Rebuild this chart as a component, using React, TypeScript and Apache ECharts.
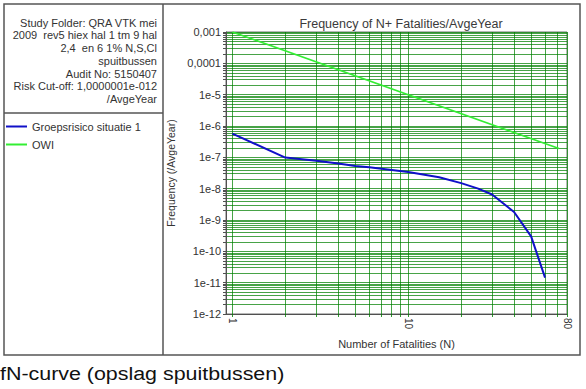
import React, { useEffect, useRef } from 'react';
import * as echarts from 'echarts';

// ---- data ----
const seriesNames = ['Groepsrisico situatie 1', 'OWI'];
const groepsN = [1, 2, 3, 4, 5, 6, 10, 15, 20, 25, 30, 40, 50, 60];
const groepsF = [5.7e-7, 9.8e-8, 7.8e-8, 6.4e-8, 5.3e-8, 4.8e-8, 3.4e-8, 2.3e-8, 1.5e-8, 1.0e-8, 6.5e-9, 1.8e-9, 3.0e-10, 1.45e-11];
const owiN = [1, 72];
const owiF = [1e-3, 1.9e-7];

const xTickValues = [1, 2, 3, 4, 5, 6, 7, 8, 9, 10, 20, 30, 40, 50, 60, 70, 80];
const xLabelValues = [1, 10, 80];
const yDecadeExponents = [-12, -11, -10, -9, -8, -7, -6, -5, -4, -3];
const yMinorMultipliers = [1, 2, 3, 4, 5, 6, 7, 8, 9];

const titleText = 'Frequency of N+ Fatalities/AvgeYear';
const xAxisName = 'Number of Fatalities (N)';
const yAxisName = 'Frequency (/AvgeYear)';
const infoLines = [
  'Study Folder: QRA VTK mei',
  '2009  rev5 hiex hal 1 tm 9 hal',
  '2,4  en 6 1% N,S,Cl',
  'spuitbussen',
  'Audit No: 5150407',
  'Risk Cut-off: 1,0000001e-012',
  '/AvgeYear',
];
const captionText = 'fN-curve (opslag spuitbussen)';

const FONT = '"Liberation Sans", Arial, sans-serif';

function yLabel(v: number): string {
  const e = Math.round(Math.log10(v));
  if (e >= -4) return '0,' + '0'.repeat(-e - 1) + '1';
  return '1e' + e;
}

export default function App() {
  const ref = useRef<HTMLDivElement>(null);
  useEffect(() => {
    if (!ref.current) return;
    const chart = echarts.init(ref.current, null, { renderer: 'svg' });

    const yLabelValues = yDecadeExponents.map((e) => Math.pow(10, e));
    const yTickValues: number[] = [];
    yDecadeExponents.forEach((e) => {
      yMinorMultipliers.forEach((m) => {
        const v = m * Math.pow(10, e);
        if (v <= 1.0000001e-3) yTickValues.push(v);
      });
    });

    const frameColor = '#555555';
    const gridGreen = 'rgba(0,128,0,0.72)';

    chart.setOption({
      animation: false,
      backgroundColor: '#ffffff',
      textStyle: { fontFamily: FONT },
      title: {
        text: titleText,
        left: 396,
        top: 12,
        textAlign: 'center',
        textStyle: { fontSize: 12.5, fontWeight: 'normal', color: '#3a3a3a', fontFamily: FONT },
      },
      legend: {
        orient: 'vertical',
        left: 6,
        top: 121,
        padding: 0,
        itemWidth: 21,
        itemHeight: 2,
        itemGap: 7,
        icon: 'rect',
        data: seriesNames,
        textStyle: { fontSize: 11, color: '#333333', fontFamily: FONT },
      },
      grid: {
        left: 226,
        right: 19,
        top: 32,
        bottom: 75,
        show: true,
        borderColor: '#707070',
        borderWidth: 1,
        backgroundColor: '#ffffff',
      },
      xAxis: {
        type: 'log',
        min: 0.92,
        max: 80,
        name: xAxisName,
        nameLocation: 'middle',
        nameGap: 24,
        nameTextStyle: { fontSize: 11, color: '#333333', fontFamily: FONT },
        axisLine: { show: true, lineStyle: { color: '#505050', width: 1 } },
        axisTick: { show: true, length: 3, customValues: xTickValues, lineStyle: { color: 'rgba(0,128,0,0.8)' } },
        axisLabel: {
          customValues: xLabelValues,
          rotate: -90,
          margin: 4,
          fontSize: 10,
          color: '#333333',
          fontFamily: FONT,
          formatter: (v: number) => String(Math.round(v)),
        },
        splitLine: { show: true, lineStyle: { color: gridGreen, width: 1 } },
      },
      yAxis: {
        type: 'log',
        min: 1e-12,
        max: 1e-3,
        name: yAxisName,
        nameLocation: 'middle',
        nameGap: 40,
        nameTextStyle: { fontSize: 10.5, color: '#333333', fontFamily: FONT },
        axisLine: { show: true, lineStyle: { color: '#505050', width: 1 } },
        axisTick: { show: true, length: 3, customValues: yTickValues, lineStyle: { color: '#505050' } },
        axisLabel: {
          customValues: yLabelValues,
          margin: 5,
          fontSize: 11,
          color: '#333333',
          fontFamily: FONT,
          formatter: (v: number) => yLabel(v),
        },
        splitLine: { show: true, lineStyle: { color: gridGreen, width: 1 } },
      },
      series: [
        {
          name: seriesNames[0],
          type: 'line',
          data: groepsN.map((n, i) => [n, groepsF[i]]),
          symbol: 'none',
          lineStyle: { color: '#1010c8', width: 2 },
          itemStyle: { color: '#1010c8' },
          z: 5,
        },
        {
          name: seriesNames[1],
          type: 'line',
          data: owiN.map((n, i) => [n, owiF[i]]),
          symbol: 'none',
          lineStyle: { color: '#33ee33', width: 1.6 },
          itemStyle: { color: '#33ee33' },
          z: 4,
        },
      ],
      graphic: [
        {
          type: 'rect',
          shape: { x: 4, y: 4, width: 576, height: 351 },
          style: { fill: 'none', stroke: frameColor, lineWidth: 1.5 },
          z: -1,
        },
        {
          type: 'line',
          shape: { x1: 163, y1: 4, x2: 163, y2: 355 },
          style: { stroke: frameColor, lineWidth: 1.5 },
        },
        {
          type: 'line',
          shape: { x1: 4, y1: 113, x2: 163, y2: 113 },
          style: { stroke: frameColor, lineWidth: 1.5 },
        },
        ...infoLines.map((t, i) => ({
          type: 'text',
          x: 157,
          y: 22.7 + i * 12.75,
          style: {
            text: t,
            align: 'right',
            verticalAlign: 'middle',
            fontSize: 11,
            fontFamily: FONT,
            fill: '#333333',
          },
        })),
        {
          type: 'text',
          x: 0,
          y: 374,
          scaleX: 1.19,
          style: {
            text: captionText,
            align: 'left',
            verticalAlign: 'middle',
            fontSize: 18,
            fontFamily: FONT,
            fill: '#111111',
          },
        },
      ],
    });
    return () => chart.dispose();
  }, []);
  return (
    <div
      ref={ref}
      style={{ position: 'fixed', left: 0, top: 0, width: 586, height: 389, background: '#fff' }}
    />
  );
}
